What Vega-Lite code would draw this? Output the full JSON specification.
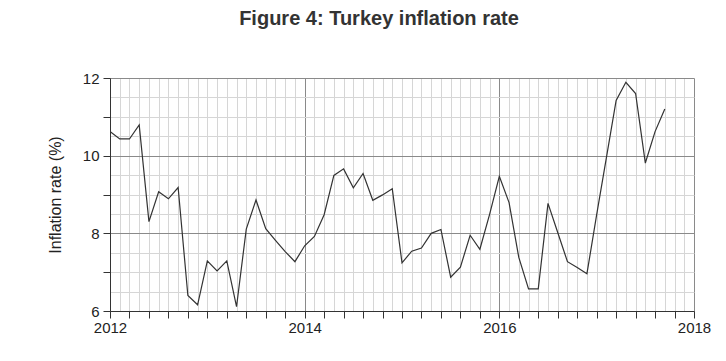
{
  "$schema": "https://vega.github.io/schema/vega-lite/v6.json",
  "autosize": "none",
  "width": 584,
  "height": 233,
  "padding": {"left": 110, "top": 78, "right": 32, "bottom": 50},
  "background": "white",
  "title": {
    "text": "Figure 4: Turkey inflation rate",
    "font": "Liberation Sans",
    "fontSize": 20,
    "fontWeight": "bold",
    "color": "#333333",
    "anchor": "middle",
    "frame": "bounds",
    "offset": 42
  },
  "config": {
    "view": {"stroke": null},
    "axis": {"labelFont": "Liberation Sans", "titleFont": "Liberation Sans"}
  },
  "data": {
    "values": [
      {"year": 2012.0, "rate": 10.62}, {"year": 2012.1, "rate": 10.43}, {"year": 2012.2, "rate": 10.43},
      {"year": 2012.3, "rate": 10.79}, {"year": 2012.4, "rate": 8.30}, {"year": 2012.5, "rate": 9.07},
      {"year": 2012.6, "rate": 8.89}, {"year": 2012.7, "rate": 9.18}, {"year": 2012.8, "rate": 6.40},
      {"year": 2012.9, "rate": 6.16}, {"year": 2013.0, "rate": 7.29}, {"year": 2013.1, "rate": 7.03},
      {"year": 2013.2, "rate": 7.29}, {"year": 2013.3, "rate": 6.11}, {"year": 2013.4, "rate": 8.11},
      {"year": 2013.5, "rate": 8.86}, {"year": 2013.6, "rate": 8.12}, {"year": 2013.7, "rate": 7.82},
      {"year": 2013.8, "rate": 7.53}, {"year": 2013.9, "rate": 7.27}, {"year": 2014.0, "rate": 7.68},
      {"year": 2014.1, "rate": 7.92}, {"year": 2014.2, "rate": 8.48}, {"year": 2014.3, "rate": 9.49},
      {"year": 2014.4, "rate": 9.66}, {"year": 2014.5, "rate": 9.17}, {"year": 2014.6, "rate": 9.54},
      {"year": 2014.7, "rate": 8.85}, {"year": 2014.8, "rate": 8.99}, {"year": 2014.9, "rate": 9.15},
      {"year": 2015.0, "rate": 7.24}, {"year": 2015.1, "rate": 7.54}, {"year": 2015.2, "rate": 7.62},
      {"year": 2015.3, "rate": 8.00}, {"year": 2015.4, "rate": 8.10}, {"year": 2015.5, "rate": 6.87},
      {"year": 2015.6, "rate": 7.13}, {"year": 2015.7, "rate": 7.95}, {"year": 2015.8, "rate": 7.59},
      {"year": 2015.9, "rate": 8.49}, {"year": 2016.0, "rate": 9.47}, {"year": 2016.1, "rate": 8.79},
      {"year": 2016.2, "rate": 7.38}, {"year": 2016.3, "rate": 6.57}, {"year": 2016.4, "rate": 6.57},
      {"year": 2016.5, "rate": 8.77}, {"year": 2016.6, "rate": 8.02}, {"year": 2016.7, "rate": 7.27},
      {"year": 2016.8, "rate": 7.12}, {"year": 2016.9, "rate": 6.96}, {"year": 2017.0, "rate": 8.48},
      {"year": 2017.1, "rate": 9.95}, {"year": 2017.2, "rate": 11.42}, {"year": 2017.3, "rate": 11.89},
      {"year": 2017.4, "rate": 11.60}, {"year": 2017.5, "rate": 9.81}, {"year": 2017.6, "rate": 10.62},
      {"year": 2017.7, "rate": 11.20}
    ]
  },
  "mark": {"type": "line", "color": "#333333", "strokeWidth": 1.2, "clip": true},
  "encoding": {
    "x": {
      "field": "year",
      "type": "quantitative",
      "scale": {"domain": [2012, 2018], "nice": false, "zero": false},
      "axis": {
        "title": null,
        "values": [2012.0, 2012.1, 2012.2, 2012.3, 2012.4, 2012.5, 2012.6, 2012.7, 2012.8, 2012.9,
                   2013.0, 2013.1, 2013.2, 2013.3, 2013.4, 2013.5, 2013.6, 2013.7, 2013.8, 2013.9,
                   2014.0, 2014.1, 2014.2, 2014.3, 2014.4, 2014.5, 2014.6, 2014.7, 2014.8, 2014.9,
                   2015.0, 2015.1, 2015.2, 2015.3, 2015.4, 2015.5, 2015.6, 2015.7, 2015.8, 2015.9,
                   2016.0, 2016.1, 2016.2, 2016.3, 2016.4, 2016.5, 2016.6, 2016.7, 2016.8, 2016.9,
                   2017.0, 2017.1, 2017.2, 2017.3, 2017.4, 2017.5, 2017.6, 2017.7, 2017.8, 2017.9, 2018.0],
        "grid": true,
        "gridColor": {"condition": {"test": "round(datum.value*10) % 20 == 0", "value": "#8a8a8a"}, "value": "#d6d6d6"},
        "gridWidth": 1,
        "ticks": true,
        "tickSize": 7,
        "tickColor": {"condition": {"test": "round(datum.value*10) % 2 == 0", "value": "#333333"}, "value": "transparent"},
        "domain": true,
        "domainColor": "#333333",
        "labelExpr": "round(datum.value*10) % 20 == 0 ? format(datum.value, 'd') : ''",
        "labelFontSize": 15,
        "labelColor": "#222222",
        "labelPadding": 2,
        "labelFlush": false,
        "labelOverlap": false
      }
    },
    "y": {
      "field": "rate",
      "type": "quantitative",
      "scale": {"domain": [6, 12], "nice": false, "zero": false},
      "axis": {
        "title": "Inflation rate (%)",
        "titleFontSize": 16,
        "titleFontWeight": "normal",
        "titleColor": "#222222",
        "titlePadding": 19,
        "values": [6, 6.5, 7, 7.5, 8, 8.5, 9, 9.5, 10, 10.5, 11, 11.5, 12],
        "grid": true,
        "gridColor": {"condition": {"test": "round(datum.value*2) % 4 == 0", "value": "#8a8a8a"}, "value": "#d6d6d6"},
        "tickSize": 7,
        "tickColor": {"condition": {"test": "round(datum.value*2) % 2 == 0", "value": "#333333"}, "value": "transparent"},
        "domain": true,
        "domainColor": "#333333",
        "labelExpr": "round(datum.value*2) % 4 == 0 ? format(datum.value, 'd') : ''",
        "labelFontSize": 15,
        "labelColor": "#222222",
        "labelPadding": 4,
        "labelFlush": false,
        "labelOverlap": false
      }
    }
  }
}
